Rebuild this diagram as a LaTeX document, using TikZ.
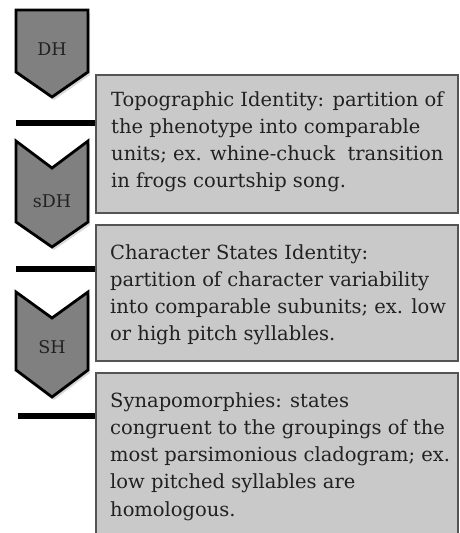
\documentclass[tikz,border=0pt]{standalone}
\usepackage{fontspec}
\setmainfont{DejaVu Serif}
\usepackage{xcolor}
\usetikzlibrary{shadows}
\definecolor{chevgray}{gray}{0.5}
\definecolor{boxgray}{gray}{0.79}
\definecolor{rimgray}{gray}{0.33}
\definecolor{inkgray}{gray}{0.13}

\begin{document}
\begin{tikzpicture}[x=1pt,y=-1pt,
chev/.style={fill=chevgray,draw=black,line width=2.8pt,line join=miter,drop shadow={shadow xshift=2pt,shadow yshift=-3pt,opacity=0.3}},
panel/.style={fill=boxgray,draw=rimgray,line width=1.6pt},
bar/.style={line width=6pt},
chevlabel/.style={font=\fontsize{17.5}{20}\selectfont,text=inkgray},
paneltext/.style={anchor=north west,inner sep=0pt,align=left,font=\fontsize{19.5}{27.3}\selectfont,text=inkgray}]
\useasboundingbox (0,0) rectangle (459,533);
\draw[chev](16,10)--(88,10)--(88,72)--(52,97)--(16,72)--cycle;
\draw[chev](16,141)--(52,168)--(88,141)--(88,222)--(52,247)--(16,222)--cycle;
\draw[chev](16,292)--(52,318)--(88,292)--(88,370)--(52,397)--(16,370)--cycle;
\node[chevlabel](DH) at (52,49){DH};
\node[chevlabel](sDH) at (52,201){sDH};
\node[chevlabel](SH) at (52,347){SH};
\draw[bar](16,123)--(96,123);
\draw[bar](16,269)--(96,269);
\draw[bar](18,416)--(96,416);
\draw[panel](96,75)rectangle(458,213);
\draw[panel](96,225)rectangle(458,361);
\draw[panel](96,373)rectangle(458,540);
\node[paneltext](topo) at (111,91){Topographic Identity: partition of\\the phenotype into comparable\\units; ex. whine-chuck\ \ transition\\in frogs courtship song.};
\node[paneltext](states) at (110,244){Character States Identity:\\partition of character variability\\into comparable subunits; ex. low\\or high pitch syllables.};
\node[paneltext](synapo) at (110,392){Synapomorphies: states\\congruent to the groupings of the\\most parsimonious cladogram; ex.\\low pitched syllables are\\homologous.};
\end{tikzpicture}
\end{document}
